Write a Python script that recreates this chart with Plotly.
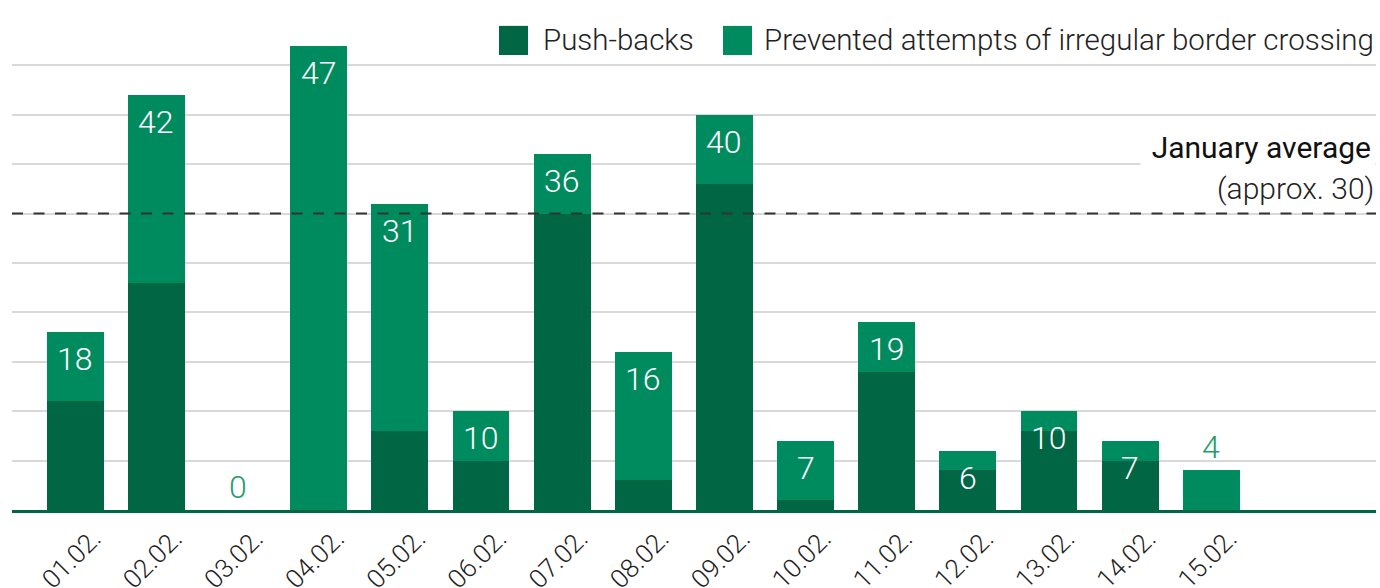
import plotly.graph_objects as go

# ---- data ----
dates = ["01.02.", "02.02.", "03.02.", "04.02.", "05.02.", "06.02.", "07.02.", "08.02.",
         "09.02.", "10.02.", "11.02.", "12.02.", "13.02.", "14.02.", "15.02."]
push_backs = [11, 23, 0, 0, 8, 5, 30, 3, 33, 1, 14, 4, 8, 5, 0]
totals = [18, 42, 0, 47, 31, 10, 36, 16, 40, 7, 19, 6, 10, 7, 4]
prevented = [t - p for t, p in zip(totals, push_backs)]
january_average = 30
series_names = ["Push-backs", "Prevented attempts of irregular border crossing"]

DARK = "#006644"
LIGHT = "#008B5F"
LABEL_GREEN = "#1E9C6E"
FONT_LIGHT = "Roboto Light, Roboto"
FONT = "Roboto"

fig = go.Figure()
fig.add_trace(go.Bar(x=dates, y=push_backs, name=series_names[0], marker_color=DARK,
                     marker_line_width=0, showlegend=False))
fig.add_trace(go.Bar(x=dates, y=prevented, name=series_names[1], marker_color=LIGHT,
                     marker_line_width=0, showlegend=False))

annotations = []
for d, t in zip(dates, totals):
    inside = t >= 5
    annotations.append(dict(
        x=d, y=t, xref="x", yref="y", text=str(t), showarrow=False,
        yanchor="top" if inside else "bottom",
        yshift=-6 if inside else 2,
        font=dict(family=FONT_LIGHT, size=32, color="white" if inside else LABEL_GREEN, weight=300),
    ))

# January average labels
annotations.append(dict(
    x=1, xref="paper", y=january_average, yref="y", xanchor="right", yanchor="bottom",
    yshift=44, text="January average", showarrow=False, align="right",
    bgcolor="white", width=226, borderpad=4,
    font=dict(family=FONT, size=30, color="#111111", weight=400),
))
annotations.append(dict(
    x=1, xref="paper", y=january_average, yref="y", xanchor="right", yanchor="bottom",
    yshift=6, text="(approx. 30)", showarrow=False, align="right",
    font=dict(family=FONT_LIGHT, size=30, color="#222222", weight=300),
))

# manual legend (large keys)
L, W = 12, 1364
def px(x):
    return (x - L) / W

shapes = [
    dict(type="line", xref="paper", x0=0, x1=1, yref="y", y0=january_average, y1=january_average,
         line=dict(color="#333333", width=2, dash="11px,10.5px"), layer="above"),
    dict(type="rect", xref="paper", yref="paper", x0=px(499), x1=px(528), y0=0.921, y1=0.980,
         fillcolor=DARK, line_width=0),
    dict(type="rect", xref="paper", yref="paper", x0=px(723), x1=px(752), y0=0.921, y1=0.980,
         fillcolor=LIGHT, line_width=0),
]
annotations.append(dict(x=px(541), xref="paper", y=0.9505, yref="paper", xanchor="left",
                        yanchor="middle", text=series_names[0], showarrow=False,
                        font=dict(family=FONT_LIGHT, size=29.5, color="#222222", weight=300)))
annotations.append(dict(x=1, xref="paper", y=0.9505, yref="paper", xanchor="right",
                        yanchor="middle", text=series_names[1], showarrow=False,
                        font=dict(family=FONT_LIGHT, size=29.5, color="#222222", weight=300)))

fig.update_layout(
    barmode="stack",
    bargap=0.3,
    width=1380, height=588,
    margin=dict(l=12, r=4, t=16, b=78),
    paper_bgcolor="white", plot_bgcolor="white",
    font=dict(family=FONT_LIGHT, color="#222222"),
    showlegend=False,
    annotations=annotations,
    shapes=shapes,
    xaxis=dict(
        type="category", range=[-0.78, 16.03], automargin=False,
        tickangle=-45, tickfont=dict(family=FONT_LIGHT, size=26, color="#222222", weight=300),
        ticklabelshift=18, ticklabelstandoff=0,
        showline=True, linecolor=DARK, linewidth=3, showgrid=False, ticks="",
    ),
    yaxis=dict(
        range=[0, 50], dtick=5, showticklabels=False, showgrid=True, automargin=False,
        gridcolor="#d9d9d9", gridwidth=1.5, zeroline=False,
    ),
)

fig.write_html("out.html")
